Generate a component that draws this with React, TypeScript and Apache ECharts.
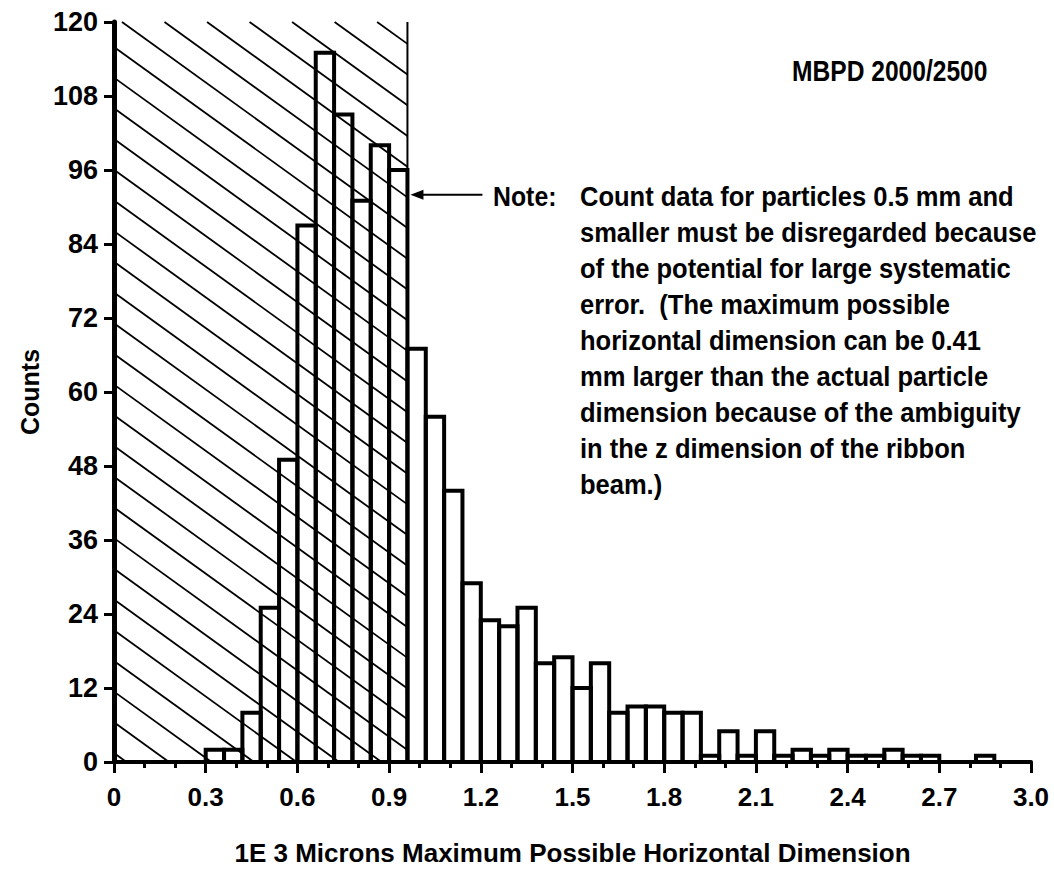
import React, { useEffect, useRef } from "react";
import * as echarts from "echarts";

// Histogram: counts per 0.06 (1E3 micron) bin, from 0 to 3.0
const binWidth = 0.06;
const counts = [
  0, 0, 0, 0, 0, 2, 2, 8, 25, 49,
  87, 115, 105, 91, 100, 96, 67, 56, 44, 29,
  23, 22, 25, 16, 17, 12, 16, 8, 9, 9,
  8, 8, 1, 5, 1, 5, 1, 2, 1, 2,
  1, 1, 2, 1, 1, 0, 0, 1, 0, 0,
];
const xTickLabels = ["0", "0.3", "0.6", "0.9", "1.2", "1.5", "1.8", "2.1", "2.4", "2.7", "3.0"];
const yTicks = [0, 12, 24, 36, 48, 60, 72, 84, 96, 108, 120];
// hatched (disregarded) region: x range and top
const hatchRange = [0, 0.96];
const hatchTop = 120;
// annotation arrow tip (data coords)
const arrowTip = [0.96, 92];
const titleText = "MBPD 2000/2500";
const noteLabel = "Note:";
const noteLines = [
  "Count data for particles 0.5 mm and",
  "smaller must be disregarded because",
  "of the potential for large systematic",
  "error.  (The maximum possible",
  "horizontal dimension can be 0.41",
  "mm larger than the actual particle",
  "dimension because of the ambiguity",
  "in the z dimension of the ribbon",
  "beam.)",
];

const BOLD = "Liberation Sans, Arial, sans-serif";

export default function App() {
  const ref = useRef<HTMLDivElement>(null);
  useEffect(() => {
    if (!ref.current) return;
    const chart = echarts.init(ref.current, undefined, { renderer: "svg" });
    const barData = counts
      .map((c, i) => [i * binWidth, (i + 1) * binWidth, c])
      .filter((d) => d[2] > 0);

    const option: any = {
      animation: false,
      backgroundColor: "#fff",
      grid: { left: 114, right: 23, top: 22, bottom: 110 },
      xAxis: {
        type: "value",
        min: 0,
        max: 3,
        interval: 0.3,
        name: "1E 3 Microns Maximum Possible Horizontal Dimension",
        nameLocation: "middle",
        nameGap: 78,
        nameTextStyle: { fontFamily: BOLD, fontWeight: "bold", fontSize: 26, color: "#000" },
        axisLine: { show: true, lineStyle: { color: "#000", width: 4 } },
        axisTick: { show: true, length: 11, lineStyle: { color: "#000", width: 3 } },
        minorTick: { show: true, splitNumber: 3, length: 6, lineStyle: { color: "#000", width: 3 } },
        splitLine: { show: false },
        axisLabel: {
          fontFamily: BOLD,
          fontWeight: "bold",
          fontSize: 26,
          color: "#000",
          margin: 22,
          formatter: (v: number) => xTickLabels[Math.round(v / 0.3)] ?? "",
        },
      },
      yAxis: {
        type: "value",
        min: 0,
        max: 120,
        interval: 12,
        name: "Counts",
        nameLocation: "middle",
        nameGap: 56,
        nameRotate: 90,
        nameTextStyle: { fontFamily: BOLD, fontWeight: "bold", fontSize: 25, color: "#000" },
        axisLine: { show: true, lineStyle: { color: "#000", width: 5 } },
        axisTick: { show: true, length: 10, lineStyle: { color: "#000", width: 3 } },
        splitLine: { show: false },
        axisLabel: {
          fontFamily: BOLD,
          fontWeight: "bold",
          fontSize: 27,
          color: "#000",
          margin: 16,
          formatter: (v: number) => (yTicks.includes(v) ? String(v) : ""),
        },
      },
      series: [
        {
          type: "custom",
          name: "hatch",
          z: 1,
          silent: true,
          data: [[hatchRange[0], hatchRange[1], hatchTop]],
          encode: { x: [0, 1], y: 2 },
          renderItem: (params: any, api: any) => {
            const tl = api.coord([api.value(0), api.value(2)]);
            const br = api.coord([api.value(1), 0]);
            const L = tl[0], T = tl[1], R = br[0], B = br[1];
            const s = 0.722;
            const dy = 30.7;
            const b0 = T - 8 * s;
            const children: any[] = [];
            const kMin = Math.floor((T - s * (R - L) - b0) / dy) - 1;
            const kMax = Math.ceil((B - b0) / dy) + 1;
            for (let k = kMin; k <= kMax; k++) {
              const b = b0 + k * dy;
              const xs = Math.max(L, L + (T - b) / s);
              const xe = Math.min(R, L + (B - b) / s);
              if (xe - xs > 0.5) {
                children.push({
                  type: "line",
                  shape: { x1: xs, y1: b + s * (xs - L), x2: xe, y2: b + s * (xe - L) },
                  style: { stroke: "#000", lineWidth: 1.8 },
                });
              }
            }
            children.push({
              type: "line",
              shape: { x1: R, y1: T, x2: R, y2: B },
              style: { stroke: "#000", lineWidth: 2 },
            });
            return { type: "group", children };
          },
        },
        {
          type: "custom",
          name: "counts",
          z: 2,
          data: barData,
          encode: { x: [0, 1], y: 2 },
          renderItem: (params: any, api: any) => {
            const p0 = api.coord([api.value(0), api.value(2)]);
            const p1 = api.coord([api.value(1), 0]);
            return {
              type: "rect",
              shape: { x: p0[0], y: p0[1], width: p1[0] - p0[0], height: p1[1] - p0[1] },
              style: { fill: "none", stroke: "#000", lineWidth: 4 },
            };
          },
        },
      ],
    };
    chart.setOption(option);

    const tip = chart.convertToPixel({ xAxisIndex: 0, yAxisIndex: 0 }, arrowTip) as number[];
    const tx = tip[0] + 3;
    const ty = tip[1];
    chart.setOption({
      graphic: [
        {
          type: "text",
          x: 792,
          y: 71,
          scaleX: 0.82,
          style: {
            text: titleText,
            font: `bold 30px ${BOLD}`,
            fill: "#000",
            align: "left",
            verticalAlign: "middle",
          },
        },
        {
          type: "line",
          shape: { x1: tx + 8, y1: ty, x2: tx + 72, y2: ty },
          style: { stroke: "#000", lineWidth: 2 },
        },
        {
          type: "polygon",
          shape: { points: [[tx, ty], [tx + 13, ty - 5], [tx + 13, ty + 5]] },
          style: { fill: "#000" },
        },
        {
          type: "text",
          x: 493,
          y: ty + 2,
          scaleX: 0.92,
          style: {
            text: noteLabel,
            font: `bold 27px ${BOLD}`,
            fill: "#000",
            verticalAlign: "middle",
          },
        },
        {
          type: "text",
          x: 580,
          y: ty + 2 - 18,
          scaleX: 0.945,
          style: {
            text: noteLines.join("\n"),
            font: `bold 27px ${BOLD}`,
            lineHeight: 36,
            fill: "#000",
            verticalAlign: "top",
          },
        },
      ],
    });
    return () => chart.dispose();
  }, []);
  return (
    <div
      ref={ref}
      style={{ position: "fixed", left: 0, top: 0, width: 1054, height: 872, background: "#fff" }}
    />
  );
}
